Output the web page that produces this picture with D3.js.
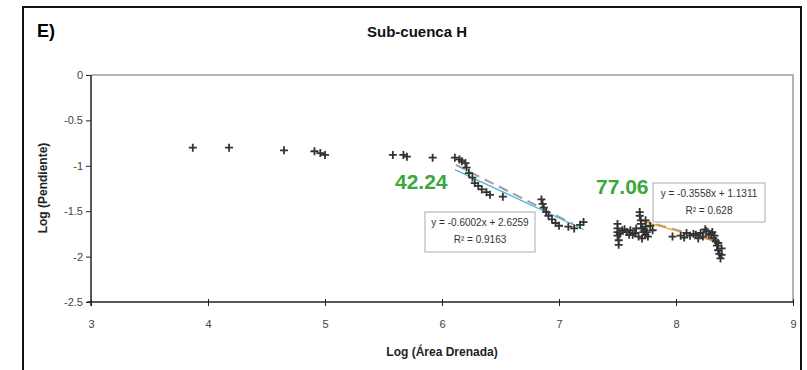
<!DOCTYPE html>
<html><head><meta charset="utf-8">
<script src="https://cdn.jsdelivr.net/npm/d3@7"></script>
<style>body{margin:0;background:#fff}svg{display:block}text{font-family:"Liberation Sans",Arial,sans-serif}</style>
</head><body><svg id="c" width="807" height="370"></svg>
<script>
const xTicks = [3,4,5,6,7,8,9];
const yTicks = [0,-0.5,-1,-1.5,-2,-2.5];
const yTickLabels = ["0","-0.5","-1","-1.5","-2","-2.5"];
// data points: Log(Área Drenada), Log(Pendiente)
const logArea = [3.87,4.18,4.65,4.91,4.96,5.00,5.58,5.67,5.70,5.92,
 6.11,6.15,6.17,6.20,6.21,6.23,6.26,6.28,6.31,6.34,6.38,6.41,6.52,
 6.85,6.86,6.87,6.89,6.91,6.94,6.97,7.00,7.08,7.13,7.18,7.21,
 7.50,7.50,7.50,7.50,7.51,7.51,7.54,7.58,7.61,7.63,7.66,7.68,7.69,7.69,7.70,7.70,7.71,7.72,7.74,7.74,7.74,7.76,7.78,7.80,
 7.52,7.56,7.60,7.65,7.71,7.73,7.75,
 7.97,8.04,8.09,8.12,8.15,8.19,8.21,8.23,8.26,8.28,8.31,8.33,8.34,8.35,8.36,8.37,8.38,8.39,8.39,
 8.07,8.17,8.25,8.30,8.32,8.36];
const logSlope = [-0.80,-0.80,-0.83,-0.84,-0.86,-0.88,-0.88,-0.88,-0.90,-0.91,
 -0.91,-0.93,-0.95,-0.97,-1.02,-1.08,-1.13,-1.19,-1.22,-1.26,-1.29,-1.32,-1.34,
 -1.37,-1.42,-1.46,-1.51,-1.55,-1.59,-1.63,-1.66,-1.67,-1.69,-1.65,-1.62,
 -1.64,-1.69,-1.73,-1.77,-1.82,-1.87,-1.71,-1.73,-1.71,-1.76,-1.69,-1.78,-1.51,-1.55,-1.60,-1.64,-1.69,-1.73,-1.60,-1.67,-1.76,-1.78,-1.66,-1.71,
 -1.75,-1.70,-1.76,-1.74,-1.80,-1.71,-1.73,
 -1.78,-1.77,-1.74,-1.77,-1.75,-1.80,-1.74,-1.78,-1.72,-1.76,-1.73,-1.77,-1.83,-1.88,-1.93,-1.97,-2.02,-1.98,-1.91,
 -1.79,-1.76,-1.70,-1.75,-1.80,-1.85];
// trendlines: [slope, intercept, xStart, xEnd]
const trend1 = [-0.6002, 2.6259, 6.11, 7.21];
const trend2 = [-0.3558, 1.1311, 7.69, 8.37];
const grayLine1X = [6.12, 7.12], grayLine1Y = [-0.99, -1.64];
const grayLine2X = [7.70, 8.36], grayLine2Y = [-1.60, -1.83];
const eq1 = ["y = -0.6002x + 2.6259", "R² = 0.9163"];
const eq2 = ["y = -0.3558x + 1.1311", "R² = 0.628"];
const labels = ["42.24","77.06"];

const svg = d3.select("#c");
const L=91,R=793,T=75,B=302;
const x = d3.scaleLinear().domain([3,9]).range([L,R]);
const y = d3.scaleLinear().domain([-2.5,0]).range([B,T]);

// outer border
svg.append("path").attr("d",`M23,370 V7 H801 V370`).attr("fill","none").attr("stroke","#111").attr("stroke-width",2);

svg.append("text").attr("x",37).attr("y",37).attr("font-size",18).attr("font-weight","bold").text("E)");
svg.append("text").attr("x",417).attr("y",37).attr("text-anchor","middle").attr("font-size",15).attr("font-weight","bold").attr("fill","#111").text("Sub-cuenca H");

// plot frame top/right
svg.append("path").attr("d",`M${L},${T} H${R} V${B}`).attr("fill","none").attr("stroke","#9a9a9a").attr("stroke-width",1.5);

// axes
const yAxis = d3.axisLeft(y).tickValues(yTicks).tickSize(5).tickFormat((d,i)=>yTickLabels[i]);
const gy = svg.append("g").attr("transform",`translate(${L},0)`).call(yAxis);
gy.select(".domain").attr("stroke","#222").attr("stroke-width",1.5).attr("d",`M0,${T}V${B+4}`);
gy.selectAll(".tick line").attr("stroke","#222").attr("x2",-5).attr("x1",0);
gy.selectAll(".tick text").attr("font-size",11).attr("fill","#444").attr("x",-8).attr("font-family","Liberation Sans, Arial");

const xAxis = d3.axisBottom(x).tickValues(xTicks).tickSize(4).tickFormat(d3.format("d"));
const gx = svg.append("g").attr("transform",`translate(0,${B})`).call(xAxis);
gx.select(".domain").attr("stroke","#222").attr("stroke-width",1.5).attr("d",`M${L-4},0H${R}`);
gx.selectAll(".tick line").attr("stroke","#222").attr("y1",-3).attr("y2",4);
gx.selectAll(".tick text").attr("font-size",11).attr("fill","#444").attr("y",18).attr("font-family","Liberation Sans, Arial");

svg.append("text").attr("x",442).attr("y",356).attr("text-anchor","middle").attr("font-size",12).attr("font-weight","bold").attr("fill","#222").text("Log (Área Drenada)");
svg.append("text").attr("transform",`translate(47,188) rotate(-90)`).attr("text-anchor","middle").attr("font-size",12).attr("font-weight","bold").attr("fill","#222").text("Log (Pendiente)");

// gray lines
const line = d3.line().x(d=>x(d[0])).y(d=>y(d[1]));
svg.append("path").attr("d",line(d3.zip(grayLine1X,grayLine1Y))).attr("stroke","#a0a0a0").attr("stroke-width",2).attr("stroke-dasharray","10,6").attr("fill","none");
svg.append("path").attr("d",line(d3.zip(grayLine2X,grayLine2Y))).attr("stroke","#a0a0a0").attr("stroke-width",2).attr("stroke-dasharray","10,6").attr("fill","none");

// trendlines
function tl(t,color){
  const pts=[[t[2],t[0]*t[2]+t[1]],[t[3],t[0]*t[3]+t[1]]];
  svg.append("path").attr("d",line(pts)).attr("stroke",color).attr("stroke-width",1.3).attr("fill","none");
}
tl(trend1,"#4cb8d8");
tl(trend2,"#f0a020");

// points
const pts = d3.zip(logArea,logSlope);
svg.append("g").selectAll("path").data(pts).join("path")
 .attr("d",d=>{const cx=x(d[0]),cy=y(d[1]);return `M${cx-4},${cy}H${cx+4}M${cx},${cy-4}V${cy+4}`;})
 .attr("stroke","#333").attr("stroke-width",1.8);

// equation boxes
function box(x0,y0,w,h,lines){
  svg.append("rect").attr("x",x0).attr("y",y0).attr("width",w).attr("height",h).attr("fill","#fff").attr("stroke","#aaa").attr("stroke-width",1);
  lines.forEach((s,i)=>svg.append("text").attr("x",x0+w/2).attr("y",y0+14+i*17).attr("text-anchor","middle").attr("font-size",10).attr("fill","#333").text(s));
}
box(425,212,110,40,eq1);
box(653,183,112,39,eq2);

svg.append("text").attr("x",395).attr("y",189).attr("font-size",21).attr("font-weight","bold").attr("fill","#3aa83a").text(labels[0]);
svg.append("text").attr("x",596).attr("y",194).attr("font-size",21).attr("font-weight","bold").attr("fill","#3aa83a").text(labels[1]);
</script></body></html>
